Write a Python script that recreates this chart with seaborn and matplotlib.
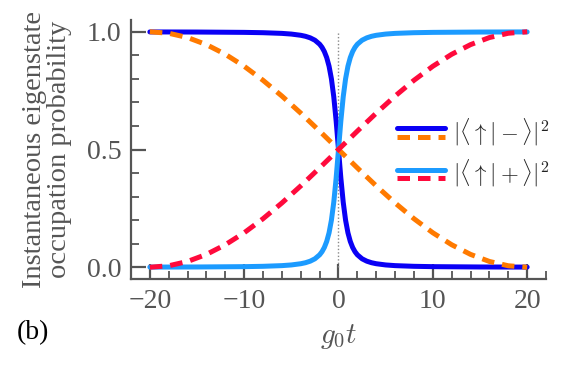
import numpy as np
import pandas as pd
import matplotlib
matplotlib.use("Agg")
import matplotlib.pyplot as plt
import seaborn as sns
from matplotlib.legend_handler import HandlerBase
from matplotlib.lines import Line2D

# ---- data ----
t_sharp = [-20, -15, -10, -8, -6, -5, -4, -3.5, -3, -2.5, -2, -1.75, -1.5, -1.25,
           -1, -0.75, -0.5, -0.25, 0, 0.25, 0.5, 0.75, 1, 1.25, 1.5, 1.75, 2,
           2.5, 3, 3.5, 4, 5, 6, 8, 10, 15, 20]
p_up_minus = [0.9994, 0.9989, 0.9975, 0.9961, 0.9932, 0.9903, 0.9851, 0.9808,
              0.9743, 0.9642, 0.9472, 0.9341, 0.9160, 0.8904, 0.8536, 0.8000,
              0.7236, 0.6213, 0.5000, 0.3787, 0.2764, 0.2000, 0.1464, 0.1096,
              0.0840, 0.0659, 0.0528, 0.0358, 0.0257, 0.0192, 0.0149, 0.0097,
              0.0068, 0.0039, 0.0025, 0.0011, 0.0006]
p_up_plus = [0.0006, 0.0011, 0.0025, 0.0039, 0.0068, 0.0097, 0.0149, 0.0192,
             0.0257, 0.0358, 0.0528, 0.0659, 0.0840, 0.1096, 0.1464, 0.2000,
             0.2764, 0.3787, 0.5000, 0.6213, 0.7236, 0.8000, 0.8536, 0.8904,
             0.9160, 0.9341, 0.9472, 0.9642, 0.9743, 0.9808, 0.9851, 0.9903,
             0.9932, 0.9961, 0.9975, 0.9989, 0.9994]

t_slow = [-20, -18, -16, -14, -12, -10, -8, -6, -4, -2, 0,
          2, 4, 6, 8, 10, 12, 14, 16, 18, 20]
p_slow_minus = [1.0, 0.9938, 0.9755, 0.9455, 0.9045, 0.8536, 0.7939, 0.7270,
                0.6545, 0.5782, 0.5, 0.4218, 0.3455, 0.2730, 0.2061, 0.1464,
                0.0955, 0.0545, 0.0245, 0.0062, 0.0]
p_slow_plus = [0.0, 0.0062, 0.0245, 0.0545, 0.0955, 0.1464, 0.2061, 0.2730,
               0.3455, 0.4218, 0.5, 0.5782, 0.6545, 0.7270, 0.7939, 0.8536,
               0.9045, 0.9455, 0.9755, 0.9938, 1.0]

x_ticks = [-20, -10, 0, 10, 20]
y_ticks = [0.0, 0.5, 1.0]
labels = [r"$|\langle\uparrow|-\rangle|^2$", r"$|\langle\uparrow|+\rangle|^2$"]

C_DARK = "#0a00f5"
C_LIGHT = "#1c9bff"
C_ORANGE = "#ff7a00"
C_RED = "#ff0a3c"
GRAY = "#555555"
DASH = (2.5, 1.6)

sns.set_theme(style="ticks")
plt.rcParams["font.family"] = ["Liberation Serif", "DejaVu Serif"]
plt.rcParams["mathtext.fontset"] = "cm"
plt.rcParams["axes.unicode_minus"] = True

fig = plt.figure(figsize=(5.66, 3.74), dpi=100)
ax = fig.add_axes([0.2314, 0.254, 0.7333, 0.6925])

df_sharp = pd.DataFrame({"t": t_sharp, "minus": p_up_minus, "plus": p_up_plus})
df_slow = pd.DataFrame({"t": t_slow, "minus": p_slow_minus, "plus": p_slow_plus})

ax.vlines(0, 0, 1, colors="#888888", linestyles=(0, (1, 1.5)), linewidth=1.0, zorder=1)

lw = 3.6
sns.lineplot(data=df_sharp, x="t", y="minus", ax=ax, color=C_DARK, lw=lw, zorder=3)
sns.lineplot(data=df_sharp, x="t", y="plus", ax=ax, color=C_LIGHT, lw=lw, zorder=3)
sns.lineplot(data=df_slow, x="t", y="minus", ax=ax, color=C_ORANGE, lw=lw, zorder=4)
ax.lines[-1].set_dashes(DASH)
sns.lineplot(data=df_slow, x="t", y="plus", ax=ax, color=C_RED, lw=lw, zorder=4)
ax.lines[-1].set_dashes(DASH)

ax.set_xlim(-22, 22)
ax.set_ylim(-0.05, 1.05)
ax.set_xticks(x_ticks)
ax.set_xticklabels([("\u2212" + str(-v)) if v < 0 else str(v) for v in x_ticks])
ax.set_yticks(y_ticks)
ax.set_yticklabels([f"{v:.1f}" for v in y_ticks])
ax.set_xticks(np.arange(-22, 23, 2), minor=True)
ax.set_yticks(np.arange(0, 1.01, 0.1), minor=True)

for s in ["top", "right"]:
    ax.spines[s].set_visible(False)
for s in ["left", "bottom"]:
    ax.spines[s].set_color(GRAY)
    ax.spines[s].set_linewidth(1.6)

ax.tick_params(which="major", direction="in", length=11, width=1.6, color=GRAY,
               labelcolor=GRAY, labelsize=20, pad=7)
ax.tick_params(which="minor", direction="in", length=6, width=1.3, color=GRAY)

ax.set_xlabel(r"$g_0t$", fontsize=21, color=GRAY, labelpad=6)
ax.set_ylabel("Instantaneous eigenstate\noccupation probability", fontsize=20.5,
              color=GRAY, linespacing=1.0)
ax.yaxis.set_label_coords(-0.142, 0.5)

fig.text(0.03, 0.11, "(b)", fontsize=20, color="black", ha="left", va="center")


class HandlerStack(HandlerBase):
    def create_artists(self, legend, orig_handle, xdescent, ydescent,
                       width, height, fontsize, trans):
        top, bottom = orig_handle
        yc = height / 2 - ydescent
        off = 0.27 * height
        arts = []
        for h, dy in ((top, off), (bottom, -off)):
            ln = Line2D([-xdescent, -xdescent + width], [yc + dy, yc + dy],
                        color=h.get_color(), lw=h.get_linewidth(),
                        linestyle="-", transform=trans)
            if h.get_linestyle() != "-":
                ln.set_dashes(DASH)
            arts.append(ln)
        return arts


h1 = (Line2D([], [], color=C_DARK, lw=lw), Line2D([], [], color=C_ORANGE, lw=lw, ls="--"))
h2 = (Line2D([], [], color=C_LIGHT, lw=lw), Line2D([], [], color=C_RED, lw=lw, ls="--"))
leg = ax.legend([h1, h2], labels, handler_map={tuple: HandlerStack()},
                loc="center left", bbox_to_anchor=(0.641, 0.486), frameon=False,
                borderpad=0, borderaxespad=0, fontsize=16.5, handlelength=2.1,
                handletextpad=0.35, labelspacing=0.45)
for txt in leg.get_texts():
    txt.set_color("#222222")

fig.savefig("out.png", dpi=100)
